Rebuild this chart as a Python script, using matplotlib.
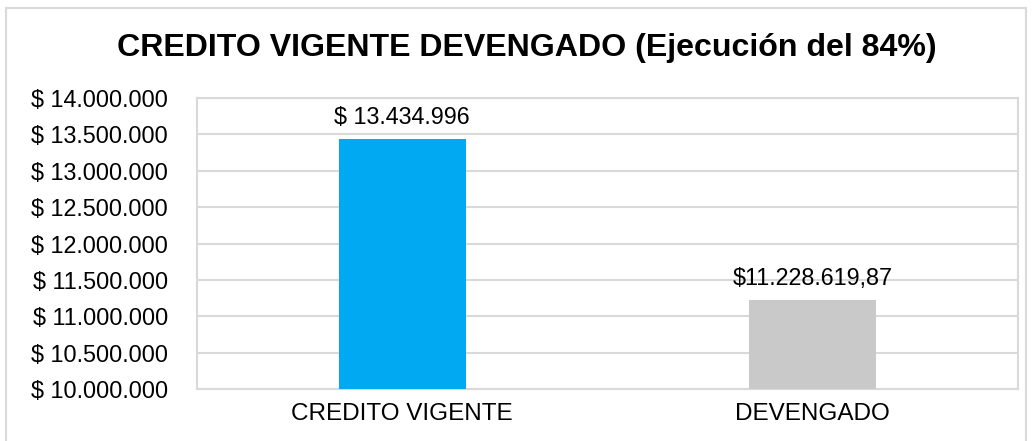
import matplotlib
matplotlib.use('Agg')
import matplotlib.pyplot as plt
from matplotlib.patches import Rectangle
from matplotlib.ticker import FuncFormatter, MultipleLocator

BLUE = '#00A9F1'
GRAY = '#C9C9C9'
GRID = '#D9D9D9'

categories = ['CREDITO VIGENTE', 'DEVENGADO']
values = [13434996, 11228619.87]
value_labels = ['$ 13.434.996', '$11.228.619,87']
colors = [BLUE, GRAY]

plt.rcParams['font.family'] = ['Liberation Sans', 'DejaVu Sans']

fig = plt.figure(figsize=(10.33, 4.41), dpi=100)
ax = fig.add_axes([197 / 1033, 1 - 389 / 441, (1018 - 197) / 1033, (389 - 98) / 441])

x = range(len(categories))
bars = ax.bar(x, values, width=0.31, color=colors, zorder=3)

for b, lab in zip(bars, value_labels):
    ax.annotate(lab, (b.get_x() + b.get_width() / 2, b.get_height()),
                xytext=(0, 7), textcoords='offset points',
                ha='center', va='bottom', fontsize=16.8)

ax.set_xlim(-0.5, 1.5)
ax.set_ylim(10000000, 14000000)
ax.yaxis.set_major_locator(MultipleLocator(500000))
ax.yaxis.set_major_formatter(FuncFormatter(lambda v, p: '$ ' + f'{v:,.0f}'.replace(',', '.')))
ax.set_xticks(list(x))
ax.set_xticklabels(categories)
ax.tick_params(axis='y', length=0, pad=21, labelsize=16.8)
ax.tick_params(axis='x', length=0, pad=10, labelsize=17.5)
ax.grid(axis='y', color=GRID, linewidth=1.5, zorder=0)
for s in ax.spines.values():
    s.set_color(GRID)
    s.set_linewidth(1.5)

fig.text(527 / 1033, 1 - 48 / 441, 'CREDITO VIGENTE DEVENGADO (Ejecución del 84%)',
         ha='center', va='center', fontsize=23.1, fontweight='bold')

# outer chart border
fig.patches.append(Rectangle((6 / 1033, -0.05), (1026 - 6) / 1033, 1.05 - 8 / 441,
                             transform=fig.transFigure, fill=False,
                             edgecolor=GRID, linewidth=1.5))

fig.savefig('out.png', dpi=100, facecolor='white')
